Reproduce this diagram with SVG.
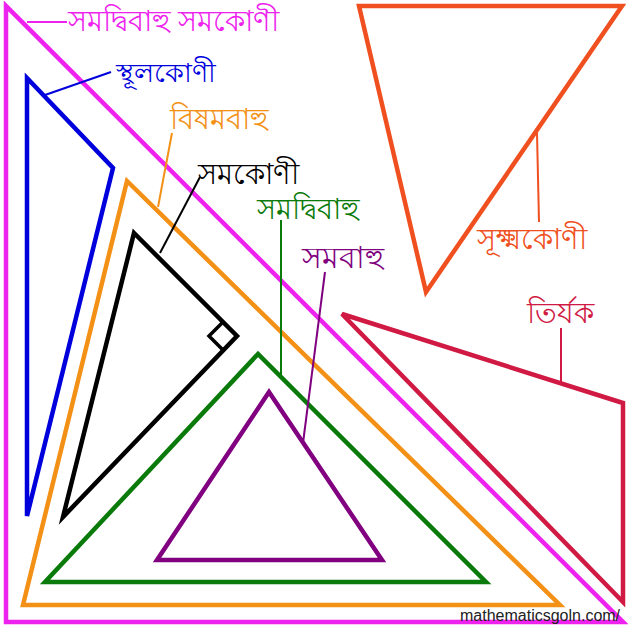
<svg xmlns="http://www.w3.org/2000/svg" width="628" height="628" viewBox="0 0 628 628">
<style>
.tri{fill:none;stroke-width:4.5;stroke-linejoin:miter}
.ld{fill:none;stroke-width:2}
.lb{font-family:"Noto Sans","DejaVu Sans",sans-serif;font-size:28.5px}
</style>
<rect width="628" height="628" fill="#fff"/>
<g id="samadwibahu-samakoni">
<polygon class="tri" points="6,6 6,622 623,622" stroke="#ee22ee"/>
<text class="lb" x="68" y="31" fill="#ee22ee">সমদ্বিবাহু সমকোণী</text>
</g>
<g id="sthulakoni">
<polygon class="tri" points="27,78 113,168 27,516" stroke="#0000dd"/>
<text class="lb" x="116" y="82" fill="#0000dd" style="font-size:27px">স্থূলকোণী</text>
</g>
<g id="bishamabahu">
<polygon class="tri" points="127,181 23,605 560,605" stroke="#f39016"/>
<text class="lb" x="170" y="129" fill="#f39016">বিষমবাহু</text>
</g>
<g id="samakoni">
<polygon class="tri" points="134,233 237,336 63,517" stroke="#000"/>
<polyline fill="none" stroke="#000" stroke-width="3.5" points="223,322 209,336 223,350"/>
<text class="lb" x="198" y="184" fill="#000">সমকোণী</text>
</g>
<g id="samadwibahu">
<polygon class="tri" points="258,354 45,582 486,582" stroke="#0a7a0a"/>
<text class="lb" x="257" y="219" fill="#0a7a0a">সমদ্বিবাহু</text>
</g>
<g id="samabahu">
<polygon class="tri" points="269,392 157,560 382,560" stroke="#800080"/>
<text class="lb" x="302" y="268" fill="#800080" style="font-size:30px">সমবাহু</text>
</g>
<g id="sukshmakoni">
<polygon class="tri" points="359,6 622,6 426,292" stroke="#f05020"/>
<text class="lb" x="477" y="249" fill="#f05020">সূক্ষ্মকোণী</text>
</g>
<g id="tirjak">
<polygon class="tri" points="342,314 623,403 623,602" stroke="#d01a44"/>
<text class="lb" x="527" y="323" fill="#d01a44">তির্যক</text>
</g>
<g id="connectors">
<line class="ld" x1="27" y1="22" x2="67" y2="22" stroke="#ee22ee"/>
<line class="ld" x1="45" y1="95" x2="111" y2="72" stroke="#0000dd"/>
<line class="ld" x1="158" y1="207" x2="172" y2="133" stroke="#f39016"/>
<line class="ld" x1="160" y1="253" x2="200" y2="177" stroke="#000"/>
<line class="ld" x1="281" y1="375" x2="281" y2="220" stroke="#0a7a0a"/>
<line class="ld" x1="303" y1="443" x2="325" y2="272" stroke="#800080"/>
<line class="ld" x1="537" y1="133" x2="539" y2="222" stroke="#f05020"/>
<line class="ld" x1="561" y1="382" x2="561" y2="328" stroke="#d01a44"/>
</g>
<text x="460" y="621" font-family="Liberation Sans,Arial,sans-serif" font-size="16" fill="#222">mathematicsgoln.com/</text>
</svg>
